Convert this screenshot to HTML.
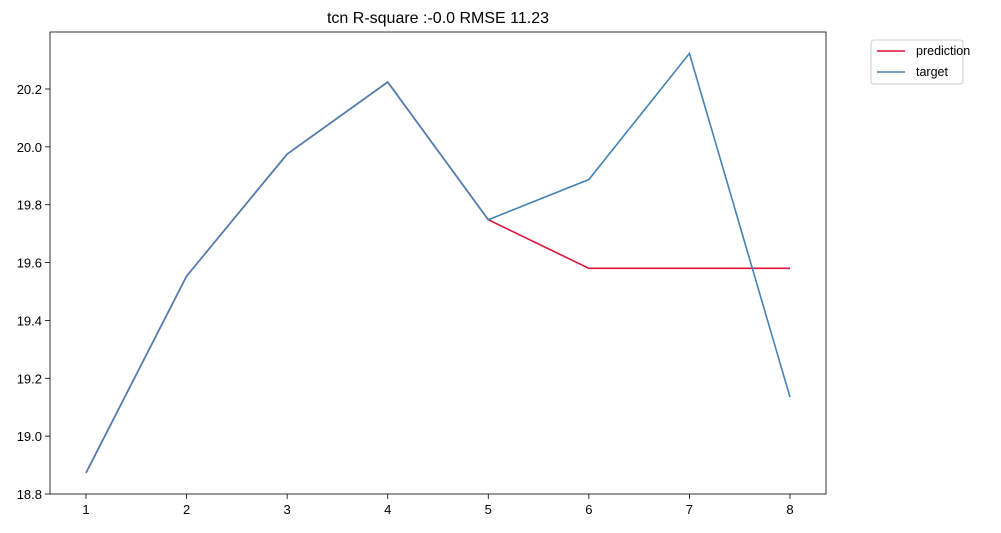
<!DOCTYPE html>
<html><head><meta charset="utf-8"><style>
body{margin:0;background:#fff;font-family:"Liberation Sans","DejaVu Sans",sans-serif;}
</style></head><body>
<svg id="chart" width="1001" height="528" xmlns="http://www.w3.org/2000/svg"></svg>
<script>
const categories=[1,2,3,4,5,6,7,8];
const targetValues=[18.873,19.553,19.975,20.224,19.748,19.887,20.323,19.135];
const predictionValues=[18.873,19.553,19.975,20.224,19.748,19.580,19.580,19.580];
const yTicks=[18.8,19.0,19.2,19.4,19.6,19.8,20.0,20.2];
const xTicks=[1,2,3,4,5,6,7,8];
const L=50,R=826,T=32,B=494;
const xMin=0.642,xMax=8.358,yMin=18.8,yMax=20.397;
const xs=v=>L+(v-xMin)/(xMax-xMin)*(R-L);
const ys=v=>B-(v-yMin)/(yMax-yMin)*(B-T);
const svg=document.getElementById('chart');
const NS='http://www.w3.org/2000/svg';
function el(tag,attrs,parent){const e=document.createElementNS(NS,tag);for(const k in attrs)e.setAttribute(k,attrs[k]);(parent||svg).appendChild(e);return e;}
let t=el('text',{x:438,y:23,'text-anchor':'middle','font-size':16,fill:'#000'});


t.textContent='tcn R-square :-0.0 RMSE 11.23';
xTicks.forEach(v=>{
 const x=xs(v);
 const l=el('line',{x1:x,x2:x,y1:B,y2:B+5,stroke:'#000','stroke-width':0.8});
 
 
 const tx=el('text',{x:x,y:B+20,'text-anchor':'middle','font-size':13,fill:'#000'});
 
 
 tx.textContent=v;
});
yTicks.forEach(v=>{
 const y=ys(v);
 const l=el('line',{x1:L-5,x2:L,y1:y,y2:y,stroke:'#000','stroke-width':0.8});
 
 
 const tx=el('text',{x:L-8,y:y+5,'text-anchor':'end','font-size':13,fill:'#000'});
 
 
 tx.textContent=v.toFixed(1);
});
function line(vals,color,name){
 const p=el('polyline',{points:vals.map((v,i)=>xs(categories[i])+','+ys(v)).join(' '),fill:'none',stroke:color,'stroke-width':1.6});
 
 
}
line(predictionValues,'#dc143c','prediction-line');
line(targetValues,'#4682b4','target-line');
const frame=el('rect',{x:L,y:T,width:R-L,height:B-T,fill:'none',stroke:'#000','stroke-width':0.8});


const lg=el('g',{});


el('rect',{x:871,y:40,width:92,height:44,rx:3,fill:'#fff',stroke:'#ccc','stroke-width':1},lg);
[['prediction','#dc143c',51],['target','#4682b4',72]].forEach(([n,c,y])=>{
 const g=el('g',{},lg);
 
 
 el('line',{x1:877,x2:905,y1:y,y2:y,stroke:c,'stroke-width':1.6},g);
 const tx=el('text',{x:916,y:y+4,'font-size':12.5,fill:'#000'},g);
 tx.textContent=n;
});
</script>
</body></html>
